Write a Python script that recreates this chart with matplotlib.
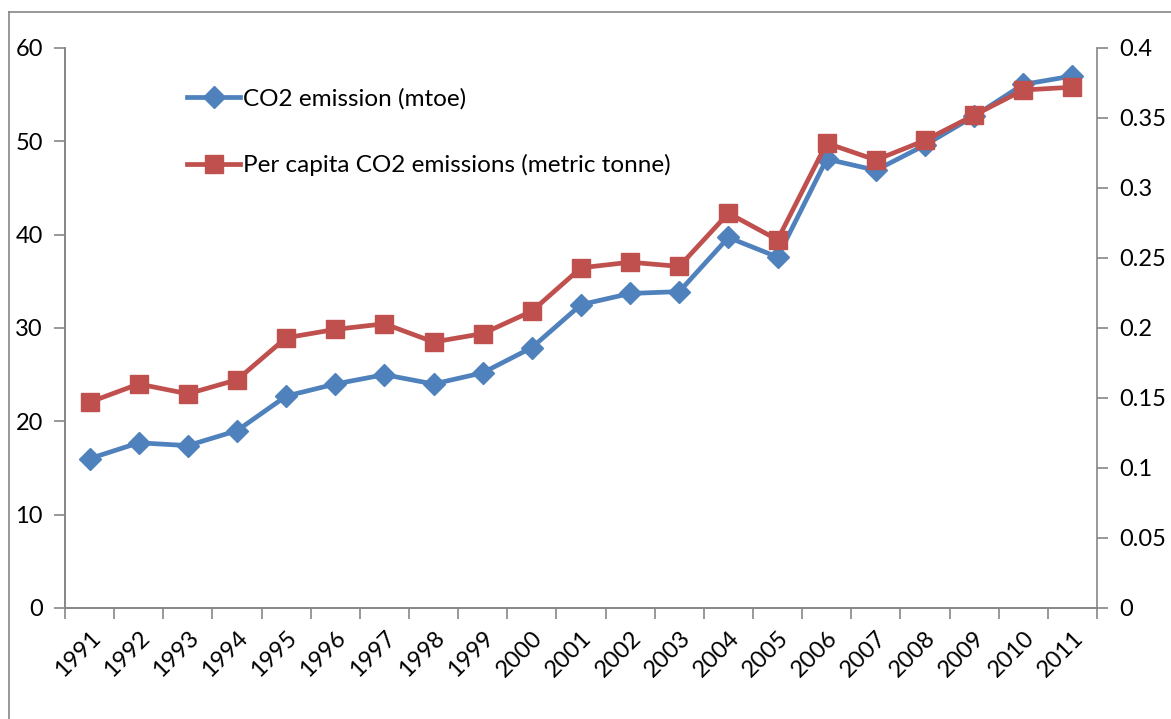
import matplotlib.pyplot as plt
import numpy as np

years = [str(y) for y in range(1991, 2012)]
co2_mtoe = [16.0, 17.7, 17.4, 19.0, 22.7, 24.0, 25.0, 24.0, 25.2, 27.9, 32.5,
            33.7, 33.9, 39.7, 37.6, 48.1, 46.9, 49.6, 52.7, 56.1, 57.0]
per_capita = [0.147, 0.160, 0.153, 0.163, 0.193, 0.199, 0.203, 0.190, 0.196, 0.212,
              0.243, 0.247, 0.244, 0.282, 0.263, 0.332, 0.320, 0.334, 0.352, 0.370, 0.372]

blue = '#4F81BD'
red = '#C0504D'
grey = '#868686'

plt.rcParams['font.family'] = ['Lato', 'DejaVu Sans']

fig = plt.figure(figsize=(11.71, 7.19), dpi=100)

# outer chart frame (top and left edges visible)
fig.add_artist(plt.Line2D([9 / 1171, 1.0], [1 - 12 / 719, 1 - 12 / 719], color=grey, lw=1.2))
fig.add_artist(plt.Line2D([9 / 1171, 9 / 1171], [0, 1 - 12 / 719], color=grey, lw=1.2))

ax = fig.add_axes([65 / 1171, 111 / 719, 1032 / 1171, 560 / 719])
ax2 = ax.twinx()

x = np.arange(len(years))
l1, = ax.plot(x, co2_mtoe, color=blue, lw=3.4, marker='D', ms=11, mec=blue,
              label='CO2 emission (mtoe)')
l2, = ax2.plot(x, per_capita, color=red, lw=3.4, marker='s', ms=13, mec=red,
               label='Per capita CO2 emissions (metric tonne)')

ax.set_xlim(-0.5, len(years) - 0.5)
ax.set_ylim(0, 60)
ax2.set_ylim(0, 0.4)
ax.set_yticks(range(0, 61, 10))
ax2.set_yticks(np.arange(0, 0.41, 0.05))
ax2.set_yticklabels(['0', '0.05', '0.1', '0.15', '0.2', '0.25', '0.3', '0.35', '0.4'])

ax.set_xticks(x)
ax.set_xticklabels(years, rotation=45, ha='right', va='top', rotation_mode='anchor')
ax.set_xticks(np.arange(-0.5, len(years), 1), minor=True)
ax.tick_params(axis='x', which='major', length=0, pad=14, labelsize=17)
ax.tick_params(axis='x', which='minor', length=8, width=1.2, color=grey, direction='out')
ax.tick_params(axis='y', length=8, width=1.2, color=grey, labelsize=17, pad=8)
ax2.tick_params(axis='y', length=8, width=1.2, color=grey, labelsize=17, pad=8)

for a in (ax, ax2):
    a.spines['top'].set_visible(False)
    for s in ('left', 'right', 'bottom'):
        a.spines[s].set_color(grey)
        a.spines[s].set_linewidth(1.2)
ax.spines['right'].set_visible(False)

ax.legend(handles=[l1, l2], loc='upper left', bbox_to_anchor=(0.097, 0.968),
          frameon=False, fontsize=17.5, labelspacing=1.85, handlelength=2.2,
          handletextpad=0.1)

fig.savefig('out.png', dpi=100)
